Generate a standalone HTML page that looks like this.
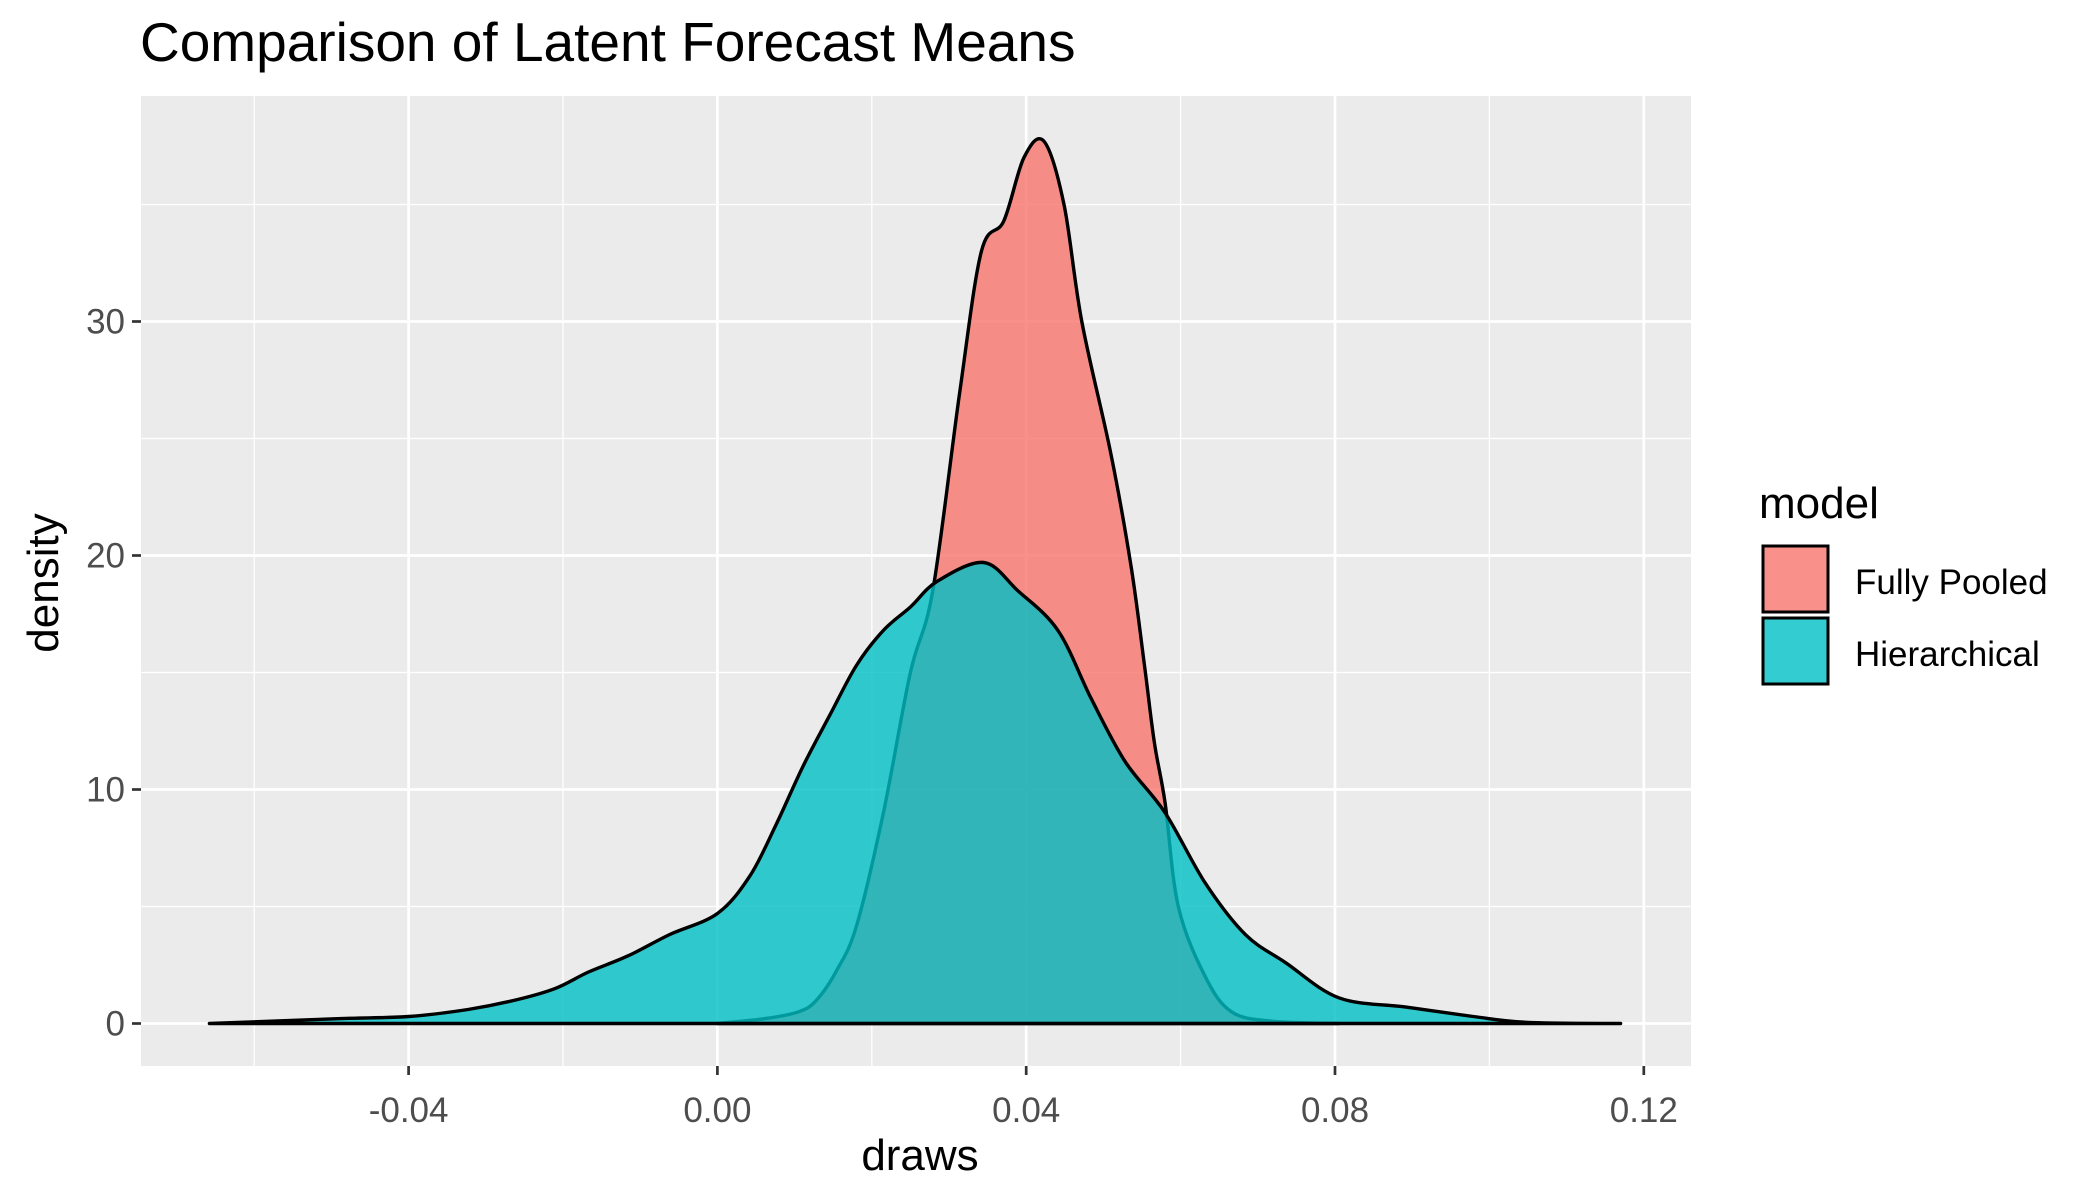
<!DOCTYPE html>
<html><head><meta charset="utf-8"><style>
html,body{margin:0;padding:0;background:#fff;}
svg{display:block;font-family:"Liberation Sans",Arial,sans-serif;}
</style></head><body>
<svg id="chart" width="2100" height="1200" viewBox="0 0 2100 1200" xmlns="http://www.w3.org/2000/svg">
<rect x="0" y="0" width="2100" height="1200" fill="#fff"/>
<text x="140" y="61" font-size="55" fill="#000">Comparison of Latent Forecast Means</text>
<rect x="141" y="96" width="1550" height="970" fill="#EBEBEB"/>
<g id="grid"></g>
<g id="marks"></g>
<g id="axes"></g>
<text x="920" y="1170" font-size="44" text-anchor="middle" fill="#000">draws</text>
<text transform="translate(58,583) rotate(-90)" font-size="44" text-anchor="middle" fill="#000">density</text>
<g>
<text x="1759" y="518" font-size="44" fill="#000">model</text>
<rect x="1763" y="546" width="65" height="66" fill="#F8766D" fill-opacity="0.8" stroke="#000" stroke-width="3"/>
<text x="1855" y="594" font-size="35" fill="#000">Fully Pooled</text>
<rect x="1763" y="618" width="65" height="66" fill="#00BFC4" fill-opacity="0.8" stroke="#000" stroke-width="3"/>
<text x="1855" y="666" font-size="35" fill="#000">Hierarchical</text>
</g>
</svg>
<script>
const xTicks = [-0.04, 0.00, 0.04, 0.08, 0.12];
const xTickLabels = ["-0.04", "0.00", "0.04", "0.08", "0.12"];
const xMinor = [-0.06, -0.02, 0.02, 0.06, 0.10];
const yTicks = [0, 10, 20, 30];
const yTickLabels = ["0", "10", "20", "30"];
const yMinor = [5, 15, 25, 35];
const pooledX = [0.0, 0.006, 0.0105, 0.01284, 0.0155, 0.01805, 0.0215, 0.025, 0.0279, 0.0314, 0.0342, 0.0371, 0.0397, 0.0423, 0.0449, 0.0472, 0.051, 0.0536, 0.0554, 0.0566, 0.058, 0.0597, 0.0632, 0.0666, 0.0718, 0.0805];
const pooledY = [0.0, 0.2, 0.5, 1.0, 2.3, 4.2, 9.0, 15.0, 18.5, 27.0, 33.0, 34.3, 37.0, 37.7, 35.0, 30.0, 24.3, 19.5, 15.1, 12.0, 9.4, 5.0, 2.0, 0.5, 0.1, 0.0];
const hierX = [-0.0658, -0.0496, -0.04, -0.0323, -0.0262, -0.021, -0.0167, -0.0115, -0.0062, 0.0, 0.0042, 0.0076, 0.0111, 0.0146, 0.018, 0.0215, 0.025, 0.0285, 0.0345, 0.0389, 0.0441, 0.0484, 0.0528, 0.058, 0.0632, 0.0684, 0.0736, 0.0805, 0.0892, 0.0979, 0.1048, 0.117];
const hierY = [0.0, 0.2, 0.3, 0.6, 1.0, 1.5, 2.2, 2.9, 3.8, 4.7, 6.3, 8.5, 11.0, 13.2, 15.3, 16.8, 17.8, 18.9, 19.7, 18.5, 16.8, 13.9, 11.2, 9.0, 6.0, 3.8, 2.6, 1.1, 0.7, 0.3, 0.05, 0.0];

const NS = "http://www.w3.org/2000/svg";
function sx(v){ return 717.4 + v / 0.04 * 308.8; }
function sy(v){ return 1023.5 - v / 10 * 234; }
const P = {l:141, r:1691, t:96, b:1066};
const grid = document.getElementById('grid');
const axes = document.getElementById('axes');
const marks = document.getElementById('marks');
function mk(tag, attrs, parent){ const e=document.createElementNS(NS,tag); for(const k in attrs) e.setAttribute(k,attrs[k]); parent.appendChild(e); return e; }

xMinor.forEach(v=>{ const l=mk('line',{x1:sx(v),x2:sx(v),y1:P.t,y2:P.b,stroke:'#fff','stroke-width':1.3},grid);

 });
yMinor.forEach(v=>{ const l=mk('line',{x1:P.l,x2:P.r,y1:sy(v),y2:sy(v),stroke:'#fff','stroke-width':1.3},grid);

 });
xTicks.forEach((v,i)=>{ const l=mk('line',{x1:sx(v),x2:sx(v),y1:P.t,y2:P.b,stroke:'#fff','stroke-width':2.7},grid);


const t=mk('line',{x1:sx(v),x2:sx(v),y1:P.b,y2:P.b+9,stroke:'#333','stroke-width':2.7},axes);


const tx=mk('text',{x:sx(v),y:P.b+56,'font-size':35,'text-anchor':'middle',fill:'#4D4D4D'},axes);
tx.textContent=xTickLabels[i];

 });
yTicks.forEach((v,i)=>{ const l=mk('line',{x1:P.l,x2:P.r,y1:sy(v),y2:sy(v),stroke:'#fff','stroke-width':2.7},grid);


const t=mk('line',{x1:P.l-9,x2:P.l,y1:sy(v),y2:sy(v),stroke:'#333','stroke-width':2.7},axes);


const tx=mk('text',{x:P.l-16,y:sy(v)+12,'font-size':35,'text-anchor':'end',fill:'#4D4D4D'},axes);
tx.textContent=yTickLabels[i];

 });

function area(xs, ys, color, name){
  const pts = xs.map((x,i)=>[sx(x), sy(Math.max(0,ys[i]))]);
  let d='M'+pts[0][0].toFixed(1)+','+sy(0).toFixed(1)+' L'+pts[0][0].toFixed(1)+','+pts[0][1].toFixed(1);
  for(let i=0;i<pts.length-1;i++){
    const p0=pts[Math.max(0,i-1)], p1=pts[i], p2=pts[i+1], p3=pts[Math.min(pts.length-1,i+2)];
    let c1y=p1[1]+(p2[1]-p0[1])/6, c2y=p2[1]-(p3[1]-p1[1])/6;
    c1y=Math.min(c1y,sy(0)); c2y=Math.min(c2y,sy(0));
    d+=' C'+(p1[0]+(p2[0]-p0[0])/6).toFixed(1)+','+c1y.toFixed(1)+' '+(p2[0]-(p3[0]-p1[0])/6).toFixed(1)+','+c2y.toFixed(1)+' '+p2[0].toFixed(1)+','+p2[1].toFixed(1);
  }
  d+=' L'+pts[pts.length-1][0].toFixed(1)+','+sy(0).toFixed(1)+' Z';
  const p=mk('path',{d:d,fill:color,'fill-opacity':0.8,stroke:'#000','stroke-width':3.4,'stroke-linejoin':'round'},marks);
  
  
}
area(pooledX, pooledY, '#F8766D', 'density-fully-pooled');
area(hierX, hierY, '#00BFC4', 'density-hierarchical');
</script>
</body></html>
